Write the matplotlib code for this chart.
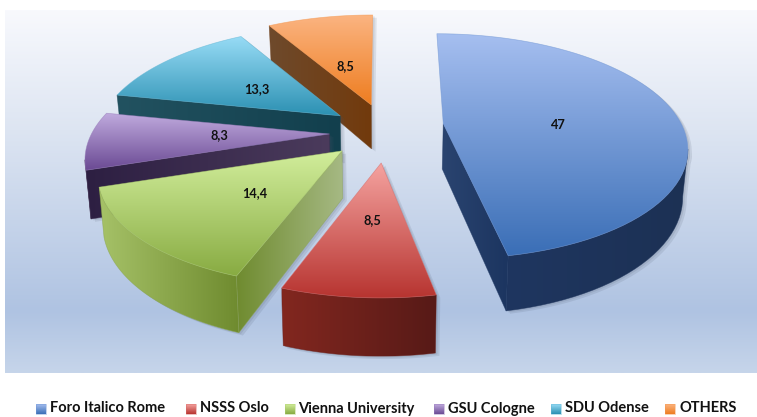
import numpy as np
import matplotlib
matplotlib.use("Agg")
import matplotlib.pyplot as plt
from matplotlib.colors import LinearSegmentedColormap
from matplotlib.patches import Polygon

# data
schools = ["Foro Italico Rome", "NSSS Oslo", "Vienna University", "GSU Cologne", "SDU Odense", "OTHERS"]
shares = [47, 8.5, 14.4, 8.3, 13.3, 8.5]

# look of the slices
explode = [1.24, 1.0, 1.22, 1.18, 1.12, 1.0]
nudge_x = [0, 1, 0, 2, 0, 0]
nudge_y = [-5, 3, -5, 0, 2, 0]
top_light = ["#a6bff0", "#f5a3a0", "#d2ee9c", "#c1acdf", "#98dcf6", "#fbb481"]
top_dark = ["#3a6eb6", "#b73430", "#88ab42", "#6b4a94", "#2b90b2", "#ee7d20"]
rim_left = ["#1f3660", "#82271f", "#a6c268", "#33223f", "#245565", "#6e4a2c"]
rim_right = ["#1c3154", "#571a17", "#6f8b2f", "#4b3b5c", "#11404e", "#723a0c"]
radial_left = ["#2a4470", "#82271f", "#6f8b2f", "#2d1f42", "#225260", "#6e4a2c"]
radial_right = ["#1c3560", "#571a17", "#a6b984", "#4b3b5c", "#123f4d", "#723a0c"]
label_r = [0.47, 0.47, 0.5, 0.45, 0.42, 0.4]
label_dy = [6, 5, 3, -2, 0, 4]

W, H = 757, 417
cx, cy = 384, 132
ex, ey = 48, 28
R, B, k = 238, 108, 0.2


def project(ax0, ay0, theta):
    u, v = np.sin(theta), np.cos(theta)
    s = 1 / (1 + k * v)
    x = ax0 + (R * u - (ax0 - cx) * 0.13 * v) * s
    y = ay0 - B * v * s
    return x, y


def depth(y):
    return 38 + 0.075 * (y - 27)


def gradient(ax, pts, c0, c1, vertical, z):
    # gradient rectangle clipped to a polygon
    pts = np.array(pts)
    x0, y0 = pts.min(axis=0)
    x1, y1 = pts.max(axis=0)
    cmap = LinearSegmentedColormap.from_list("g", [c0, c1])
    g = np.linspace(0, 1, 256)
    g = g.reshape(-1, 1) if vertical else g.reshape(1, -1)
    im = ax.imshow(g, cmap=cmap, extent=(x0, x1, y1, y0), origin="upper", aspect="auto",
                   interpolation="bilinear", zorder=z)
    patch = Polygon(pts, closed=True, transform=ax.transData, fc="none", ec="none")
    ax.add_patch(patch)
    im.set_clip_path(patch)
    ax.add_patch(Polygon(pts, closed=True, fc="none", ec=cmap(0.5), lw=0.5, alpha=0.6, zorder=z))


def wall(seg):
    low = [(p[0] - (p[0] - cx) * 0.017, p[1] + depth(p[1])) for p in seg]
    return list(seg) + low[::-1]


fig = plt.figure(figsize=(W / 100, H / 100), dpi=100)
ax = fig.add_axes([0, 0, 1, 1])
ax.set_axis_off()

# panel
panel = LinearSegmentedColormap.from_list(
    "panel", [(0, "#f8f9fd"), (0.33, "#dde5f2"), (0.83, "#afc3e2"), (1, "#c6d5ea")])
ax.imshow(np.linspace(0, 1, 256).reshape(-1, 1), cmap=panel, extent=(5, W, 373, 10),
          origin="upper", aspect="auto", zorder=0)

edges = np.cumsum([0] + shares) / sum(shares) * 2 * np.pi

# back slices first, blue last
order = [5, 4, 3, 2, 1, 0]
for n, i in enumerate(order):
    a, b = edges[i], edges[i + 1]
    mid = (a + b) / 2
    ax0 = cx + explode[i] * ex * np.sin(mid) + nudge_x[i]
    ay0 = cy - explode[i] * ey * np.cos(mid) + nudge_y[i]
    th = np.linspace(a, b, 70)
    xs, ys = project(ax0, ay0, th)
    arc = list(zip(xs, ys))
    z = 2 + n * 5

    # rim part which faces the viewer
    front = [p for j, p in enumerate(arc)
             if (j > 0 and arc[j - 1][0] > p[0]) or (j < len(arc) - 1 and p[0] > arc[j + 1][0])]
    faces = []
    if len(front) > 1:
        faces.append((wall(front), rim_left[i], rim_right[i]))
    first = [(ax0, ay0), arc[0]]
    last = [arc[-1], (ax0, ay0)]
    for seg in (first, last):
        dx = seg[1][0] - seg[0][0]
        dy = seg[1][1] - seg[0][1]
        if dx < 0 and abs(dx) > 0.15 * abs(dy):
            faces.append((wall(seg), radial_left[i], radial_right[i]))

    top = [(ax0, ay0)] + arc
    # soft shadow
    for off in (2, 4):
        for pts, *_ in faces:
            ax.add_patch(Polygon(np.array(pts) + [off, off * 0.7], closed=True, fc="#4a5568",
                                 ec="none", alpha=0.13, zorder=z - 1))
        ax.add_patch(Polygon(np.array(top) + [off, off * 0.7], closed=True, fc="#4a5568",
                             ec="none", alpha=0.13, zorder=z - 1))
    for pts, c0, c1 in faces:
        gradient(ax, pts, c0, c1, False, z)
    gradient(ax, top, top_light[i], top_dark[i], True, z + 1)

    lx = ax0 + label_r[i] * R * np.sin(mid) * 1.03
    ly = ay0 - label_r[i] * B * np.cos(mid) * 1.03 + label_dy[i]
    ax.text(lx, ly, f"{shares[i]}".replace(".", ","), ha="center", va="center",
            fontsize=9.2, fontweight="bold", family="Lato", color="#111111", zorder=50)

# legend
swatch_x = [36, 186, 284.5, 434, 551, 665]
for i, name in enumerate(schools):
    sx = swatch_x[i]
    gradient(ax, [(sx, 404), (sx + 10, 404), (sx + 10, 414), (sx, 414)], top_light[i], top_dark[i], True, 60)
    ax.text(sx + 14, 408.5, name, ha="left", va="center", fontsize=10.5, fontweight="bold",
            family="Lato", color="#111111", zorder=60)

ax.set_xlim(0, W)
ax.set_ylim(H, 0)
fig.savefig("out.png", dpi=100, facecolor="white")
